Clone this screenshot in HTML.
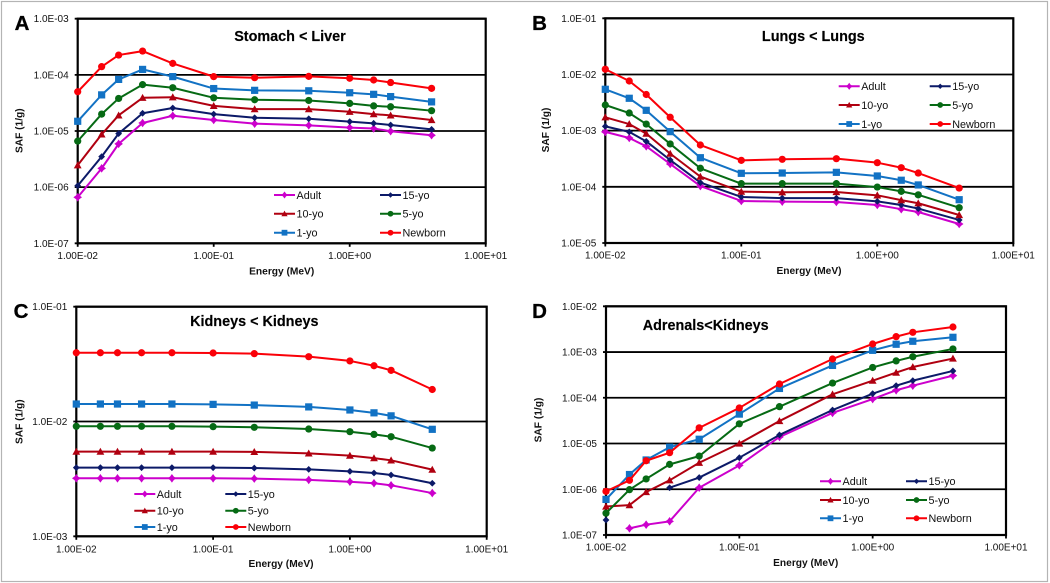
<!DOCTYPE html>
<html lang="en">
<head>
<meta charset="utf-8">
<title>SAF versus energy charts</title>
<style>
html,body{margin:0;padding:0;background:#fff;width:1050px;height:583px;overflow:hidden}
svg{display:block;filter:blur(0.35px);font-family:"Liberation Sans",sans-serif}
.tick{font-size:10px;fill:#111}
.axis-title{font-size:10.2px;font-weight:bold;fill:#111}
.chart-title{font-size:14.4px;font-weight:bold;fill:#000;stroke:#000;stroke-width:0.15px}
.letter{font-size:20.5px;font-weight:bold;fill:#000;stroke:#000;stroke-width:0.3px}
.legend-text{font-size:10.8px;fill:#111}
</style>
</head>
<body>
<svg id="figure" xmlns="http://www.w3.org/2000/svg" width="1050" height="583" viewBox="0 0 1050 583">
<rect x="1.5" y="1.5" width="1046" height="580" fill="#fff" stroke="#b4b4b4" stroke-width="1.2"/>

<text class="letter" x="22" y="30" text-anchor="middle">A</text>
<text class="letter" x="539.5" y="30" text-anchor="middle">B</text>
<text class="letter" x="21" y="318" text-anchor="middle">C</text>
<text class="letter" x="539.5" y="318" text-anchor="middle">D</text>

<text class="chart-title" x="290" y="41" text-anchor="middle">Stomach &lt; Liver</text>
<text class="chart-title" x="813.3" y="41" text-anchor="middle">Lungs &lt; Lungs</text>
<text class="chart-title" x="254.3" y="326" text-anchor="middle">Kidneys &lt; Kidneys</text>
<text class="chart-title" x="705.7" y="330" text-anchor="middle">Adrenals&lt;Kidneys</text>

<text class="axis-title" x="281.7" y="274.5" text-anchor="middle">Energy (MeV)</text>
<text class="axis-title" x="809" y="274" text-anchor="middle">Energy (MeV)</text>
<text class="axis-title" x="281" y="567" text-anchor="middle">Energy (MeV)</text>
<text class="axis-title" x="805.7" y="566" text-anchor="middle">Energy (MeV)</text>

<text class="axis-title" transform="translate(22.5,130.7) rotate(-90)" text-anchor="middle">SAF (1/g)</text>
<text class="axis-title" transform="translate(549.2,130) rotate(-90)" text-anchor="middle">SAF (1/g)</text>
<text class="axis-title" transform="translate(22.5,421.7) rotate(-90)" text-anchor="middle">SAF (1/g)</text>
<text class="axis-title" transform="translate(541.5,420) rotate(-90)" text-anchor="middle">SAF (1/g)</text>
</svg>

<script>
var energies = [0.01, 0.015, 0.02, 0.03, 0.05, 0.1, 0.2, 0.5, 1, 1.5, 2, 4];
var xTickLabels = ["1.00E-02", "1.00E-01", "1.00E+00", "1.00E+01"];
var seriesNames = ["Adult", "15-yo", "10-yo", "5-yo", "1-yo", "Newborn"];

var stomachTicks = ["1.0E-03", "1.0E-04", "1.0E-05", "1.0E-06", "1.0E-07"];
var stomachAdult = [6.6e-7, 2.16e-6, 5.9e-6, 1.39e-5, 1.87e-5, 1.57e-5, 1.35e-5, 1.26e-5, 1.15e-5, 1.11e-5, 9.9e-6, 8.4e-6];
var stomach15yo = [1.06e-6, 3.5e-6, 9.0e-6, 2.07e-5, 2.57e-5, 2.0e-5, 1.72e-5, 1.65e-5, 1.47e-5, 1.37e-5, 1.28e-5, 1.07e-5];
var stomach10yo = [2.45e-6, 8.7e-6, 1.9e-5, 3.9e-5, 4.0e-5, 2.8e-5, 2.45e-5, 2.45e-5, 2.2e-5, 2.0e-5, 1.9e-5, 1.57e-5];
var stomach5yo = [6.6e-6, 2.0e-5, 3.8e-5, 6.7e-5, 5.9e-5, 3.9e-5, 3.6e-5, 3.5e-5, 3.1e-5, 2.8e-5, 2.7e-5, 2.3e-5];
var stomach1yo = [1.49e-5, 4.4e-5, 8.3e-5, 1.25e-4, 9.3e-5, 5.7e-5, 5.3e-5, 5.2e-5, 4.8e-5, 4.5e-5, 4.1e-5, 3.3e-5];
var stomachNewborn = [5.0e-5, 1.4e-4, 2.25e-4, 2.65e-4, 1.6e-4, 9.3e-5, 8.9e-5, 9.4e-5, 8.7e-5, 8.1e-5, 7.3e-5, 5.75e-5];

var lungsTicks = ["1.0E-01", "1.0E-02", "1.0E-03", "1.0E-04", "1.0E-05"];
var lungsAdult = [9.5e-4, 7.4e-4, 5.26e-4, 2.55e-4, 1.03e-4, 5.6e-5, 5.45e-5, 5.37e-5, 4.75e-5, 4.0e-5, 3.56e-5, 2.18e-5];
var lungs15yo = [1.19e-3, 9.5e-4, 6.45e-4, 3.0e-4, 1.19e-4, 6.6e-5, 6.3e-5, 6.3e-5, 5.5e-5, 4.75e-5, 4.1e-5, 2.57e-5];
var lungs10yo = [1.73e-3, 1.31e-3, 8.85e-4, 3.9e-4, 1.52e-4, 8.2e-5, 8.0e-5, 8.1e-5, 7.06e-5, 5.8e-5, 5.1e-5, 3.15e-5];
var lungs5yo = [2.86e-3, 2.06e-3, 1.31e-3, 5.8e-4, 2.14e-4, 1.14e-4, 1.14e-4, 1.14e-4, 9.9e-5, 8.3e-5, 7.2e-5, 4.25e-5];
var lungs1yo = [5.45e-3, 3.77e-3, 2.3e-3, 9.6e-4, 3.3e-4, 1.74e-4, 1.76e-4, 1.81e-4, 1.56e-4, 1.31e-4, 1.08e-4, 5.9e-5];
var lungsNewborn = [1.24e-2, 7.65e-3, 4.4e-3, 1.73e-3, 5.55e-4, 2.96e-4, 3.09e-4, 3.17e-4, 2.69e-4, 2.19e-4, 1.76e-4, 9.5e-5];

var kidneysTicks = ["1.0E-01", "1.0E-02", "1.0E-03"];
var kidneysAdult = [3.2e-3, 3.2e-3, 3.2e-3, 3.2e-3, 3.2e-3, 3.2e-3, 3.18e-3, 3.1e-3, 2.99e-3, 2.9e-3, 2.78e-3, 2.38e-3];
var kidneys15yo = [3.96e-3, 3.96e-3, 3.96e-3, 3.96e-3, 3.96e-3, 3.96e-3, 3.93e-3, 3.83e-3, 3.68e-3, 3.56e-3, 3.42e-3, 2.9e-3];
var kidneys10yo = [5.46e-3, 5.46e-3, 5.46e-3, 5.46e-3, 5.46e-3, 5.46e-3, 5.44e-3, 5.28e-3, 5.04e-3, 4.8e-3, 4.59e-3, 3.81e-3];
var kidneys5yo = [9.08e-3, 9.08e-3, 9.08e-3, 9.08e-3, 9.08e-3, 9.02e-3, 8.9e-3, 8.6e-3, 8.15e-3, 7.72e-3, 7.37e-3, 5.87e-3];
var kidneys1yo = [1.42e-2, 1.42e-2, 1.42e-2, 1.42e-2, 1.42e-2, 1.41e-2, 1.39e-2, 1.34e-2, 1.26e-2, 1.19e-2, 1.12e-2, 8.55e-3];
var kidneysNewborn = [3.97e-2, 3.97e-2, 3.97e-2, 3.97e-2, 3.97e-2, 3.95e-2, 3.9e-2, 3.67e-2, 3.37e-2, 3.06e-2, 2.79e-2, 1.9e-2];

var adrenalsTicks = ["1.0E-02", "1.0E-03", "1.0E-04", "1.0E-05", "1.0E-06", "1.0E-07"];
var adrenalsAdult = [null, 1.4e-7, 1.68e-7, 1.99e-7, 1.08e-6, 3.33e-6, 1.39e-5, 4.66e-5, 9.4e-5, 1.46e-4, 1.84e-4, 3.05e-4];
var adrenals15yo = [2.13e-7, null, null, 1.08e-6, 1.8e-6, 4.9e-6, 1.54e-5, 5.4e-5, 1.23e-4, 1.84e-4, 2.37e-4, 3.86e-4];
var adrenals10yo = [4.2e-7, 4.5e-7, 8.7e-7, 1.57e-6, 3.8e-6, 1.0e-5, 3.1e-5, 1.19e-4, 2.37e-4, 3.55e-4, 4.7e-4, 7.2e-4];
var adrenals5yo = [3.0e-7, 9.8e-7, 1.68e-6, 3.5e-6, 5.3e-6, 2.7e-5, 6.4e-5, 2.1e-4, 4.6e-4, 6.4e-4, 7.9e-4, 1.17e-3];
var adrenals1yo = [6.0e-7, 2.1e-6, 4.37e-6, 8.3e-6, 1.24e-5, 4.4e-5, 1.6e-4, 5.1e-4, 1.09e-3, 1.48e-3, 1.72e-3, 2.1e-3];
var adrenalsNewborn = [9.0e-7, 1.57e-6, 4.2e-6, 6.3e-6, 2.2e-5, 6.0e-5, 2.0e-4, 7.05e-4, 1.5e-3, 2.17e-3, 2.7e-3, 3.53e-3];

var seriesColors = ["#cc00cc", "#0c1a68", "#b00010", "#066a14", "#1272c4", "#fa0008"];
var seriesShapes = ["star", "diamond", "triangle", "circle", "square", "circle"];

var svg = document.getElementById("figure");
var NS = "http://www.w3.org/2000/svg";

function make(tag, attrs, parent) {
  var el = document.createElementNS(NS, tag);
  for (var k in attrs) { el.setAttribute(k, attrs[k]); }
  parent.appendChild(el);
  return el;
}

function makeXScale(layout) {
  var lo = Math.log10(Number(xTickLabels[0]));
  var hi = Math.log10(Number(xTickLabels[xTickLabels.length - 1]));
  return function (v) { return layout.left + (Math.log10(v) - lo) / (hi - lo) * (layout.right - layout.left); };
}

function makeYScale(layout, ticks) {
  var hi = Math.log10(Number(ticks[0]));
  var lo = Math.log10(Number(ticks[ticks.length - 1]));
  return function (v) { return layout.top + (hi - Math.log10(v)) / (hi - lo) * (layout.bottom - layout.top); };
}

function drawMarker(parent, shape, x, y, color, scale) {
  var s = scale || 1;
  var el;
  if (shape === "circle") {
    el = make("circle", { cx: x, cy: y, r: 3.6 * s, fill: color }, parent);
  } else if (shape === "square") {
    var a = 3.6 * s;
    el = make("rect", { x: x - a, y: y - a, width: 2 * a, height: 2 * a, fill: color }, parent);
  } else if (shape === "triangle") {
    var t = 3.9 * s;
    el = make("polygon", { points: [x, y - t, x + t, y + t * 0.8, x - t, y + t * 0.8].join(" "), fill: color }, parent);
  } else if (shape === "diamond") {
    var d = 3.4 * s;
    el = make("polygon", { points: [x, y - d, x + d, y, x, y + d, x - d, y].join(" "), fill: color }, parent);
  } else {
    var p = 3.8 * s, q = 1.6 * s;
    el = make("polygon", { points: [x, y - p, x + q, y - q, x + p, y, x + q, y + q, x, y + p, x - q, y + q, x - p, y, x - q, y - q].join(" "), fill: color, stroke: color, "stroke-width": 0.6 }, parent);
  }
  return el;
}

function drawPanel(panel) {
  var L = panel.layout;
  var xs = makeXScale(L);
  var ys = makeYScale(L, panel.ticks);
  var g = make("g", {}, svg);
  
  

  panel.ticks.forEach(function (label) {
    var y = ys(Number(label));
    var grid = make("line", { x1: L.left - 3, x2: L.right, y1: y, y2: y, stroke: "#000", "stroke-width": 1.8 }, g);
    
    
    var t = make("text", { x: L.left - 9, y: y + 3.5, "text-anchor": "end", "class": "tick" }, g);
    t.textContent = label;
    
    
  });

  xTickLabels.forEach(function (label) {
    var x = xs(Number(label));
    var tk = make("line", { x1: x, x2: x, y1: L.bottom, y2: L.bottom + 3.5, stroke: "#000", "stroke-width": 1.8 }, g);
    
    
    var t = make("text", { x: x, y: L.tickY, "text-anchor": "middle", "class": "tick" }, g);
    t.textContent = label;
    
    
  });

  var box = make("rect", { x: L.left, y: L.top, width: L.right - L.left, height: L.bottom - L.top, fill: "none", stroke: "#000", "stroke-width": 2.2 }, g);
  
  

  panel.series.forEach(function (values, i) {
    var color = seriesColors[i];
    var sg = make("g", {}, g);
    
    
    var d = "";
    var pen = false;
    values.forEach(function (v, j) {
      if (v === null) { pen = false; return; }
      d += (pen ? "L" : "M") + xs(energies[j]).toFixed(2) + " " + ys(v).toFixed(2);
      pen = true;
    });
    var line = make("path", { d: d, fill: "none", stroke: color, "stroke-width": 2, "stroke-linejoin": "round" }, sg);
    
    
    values.forEach(function (v, j) {
      if (v === null) { return; }
      var m = drawMarker(sg, seriesShapes[i], xs(energies[j]), ys(v), color, 1);
      
      
    });
  });

  seriesNames.forEach(function (name, i) {
    var col = i % 2;
    var row = Math.floor(i / 2);
    var x0 = L.legendCols[col];
    var y0 = L.legendRows[row];
    var lg = make("g", {}, g);
    
    
    make("line", { x1: x0, x2: x0 + 21, y1: y0, y2: y0, stroke: seriesColors[i], "stroke-width": 2 }, lg);
    drawMarker(lg, seriesShapes[i], x0 + 10.5, y0, seriesColors[i], 0.8);
    var t = make("text", { x: x0 + 22.5, y: y0 + 3.8, "class": "legend-text" }, lg);
    t.textContent = name;
  });
}

var panels = [
  { id: "a", ticks: stomachTicks,
    series: [stomachAdult, stomach15yo, stomach10yo, stomach5yo, stomach1yo, stomachNewborn],
    layout: { left: 77.7, right: 485.7, top: 18.7, bottom: 243.3, tickY: 259, legendCols: [274, 380], legendRows: [195, 213.7, 232.7] } },
  { id: "b", ticks: lungsTicks,
    series: [lungsAdult, lungs15yo, lungs10yo, lungs5yo, lungs1yo, lungsNewborn],
    layout: { left: 605.3, right: 1013.3, top: 18.3, bottom: 243, tickY: 258.5, legendCols: [838.7, 929.7], legendRows: [86.3, 105, 124] } },
  { id: "c", ticks: kidneysTicks,
    series: [kidneysAdult, kidneys15yo, kidneys10yo, kidneys5yo, kidneys1yo, kidneysNewborn],
    layout: { left: 76.3, right: 486.7, top: 306.7, bottom: 536.3, tickY: 552.5, legendCols: [134.3, 225.3], legendRows: [494, 510.7, 527] } },
  { id: "d", ticks: adrenalsTicks,
    series: [adrenalsAdult, adrenals15yo, adrenals10yo, adrenals5yo, adrenals1yo, adrenalsNewborn],
    layout: { left: 606, right: 1006, top: 306.3, bottom: 535, tickY: 550.5, legendCols: [820, 906], legendRows: [481.3, 500, 518.3] } }
];

panels.forEach(drawPanel);
</script>
</body>
</html>
